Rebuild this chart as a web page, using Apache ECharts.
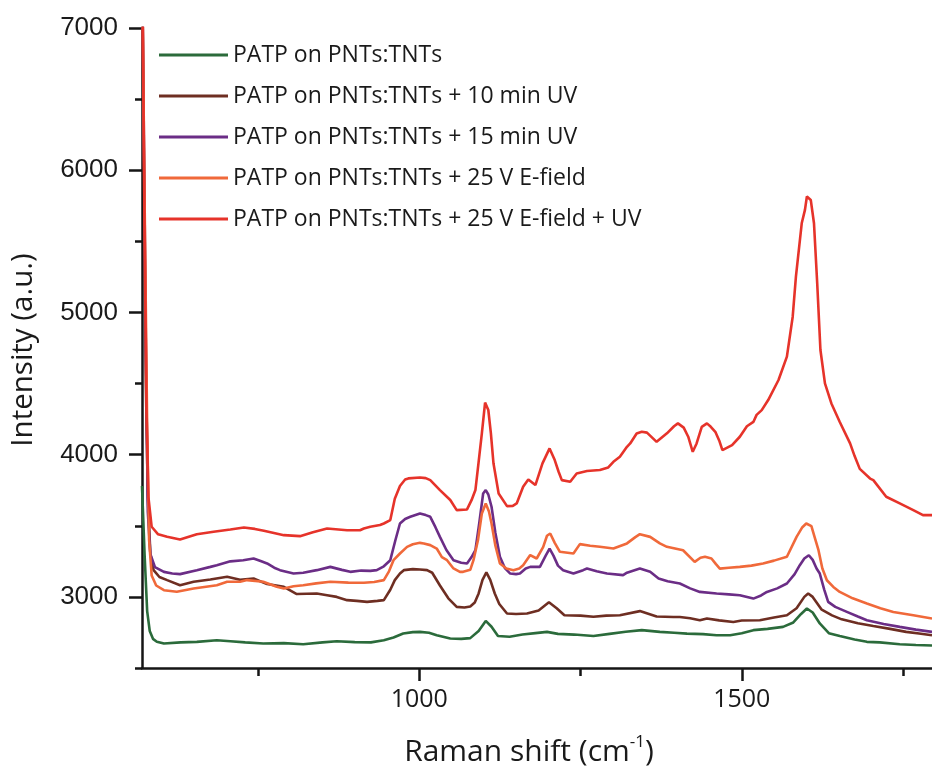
<!DOCTYPE html>
<html>
<head>
<meta charset="utf-8">
<script src="https://cdn.jsdelivr.net/npm/echarts@6/dist/echarts.min.js"></script>
<style>
  html, body { margin: 0; padding: 0; background: #ffffff; }
  #chart { width: 932px; height: 770px; }
</style>
</head>
<body>
<div id="chart"></div>
<script>
// Raman spectra of PATP on PNTs:TNTs — [Raman shift (cm-1), intensity (a.u.)]
const seriesNames = [
  'PATP on PNTs:TNTs',
  'PATP on PNTs:TNTs + 10 min UV',
  'PATP on PNTs:TNTs + 15 min UV',
  'PATP on PNTs:TNTs + 25 V E-field',
  'PATP on PNTs:TNTs + 25 V E-field + UV'
];

const spectrumBare = [
  [570,3780],[574,3300],[578,2900],[582,2760],[587,2705],[593,2685],[604,2672],[630,2680],
  [655,2684],[686,2695],[707,2688],[730,2680],[758,2672],[790,2675],[820,2667],[850,2680],
  [872,2688],[900,2682],[925,2680],[945,2695],[960,2715],[975,2742],[990,2752],[1001,2754],
  [1015,2748],[1027,2730],[1048,2707],[1065,2705],[1079,2710],[1092,2760],[1103,2831],[1112,2790],
  [1122,2725],[1140,2720],[1160,2735],[1180,2745],[1198,2754],[1215,2740],[1240,2735],[1270,2725],
  [1295,2740],[1320,2755],[1345,2766],[1373,2754],[1395,2748],[1415,2742],[1440,2738],[1461,2730],
  [1482,2730],[1500,2745],[1518,2766],[1540,2775],[1564,2789],[1580,2820],[1592,2880],[1601,2918],
  [1610,2890],[1621,2813],[1635,2745],[1652,2725],[1675,2700],[1694,2684],[1714,2680],[1745,2667],
  [1770,2662],[1795,2658]
];

const spectrumUv10 = [
  [570,7600],[573,6000],[576,4500],[579,3700],[583,3300],[588,3188],[597,3140],[609,3118],
  [629,3082],[650,3106],[676,3122],[702,3141],[722,3120],[743,3129],[764,3090],[790,3071],
  [810,3020],[841,3024],[857,3012],[872,3000],[888,2977],[903,2972],[919,2965],[935,2972],
  [945,2977],[955,3050],[962,3118],[970,3164],[976,3188],[990,3195],[1001,3193],[1012,3188],
  [1020,3170],[1032,3080],[1045,2990],[1058,2930],[1070,2925],[1079,2932],[1086,2960],[1092,3024],
  [1098,3120],[1104,3172],[1110,3120],[1117,3024],[1124,2950],[1136,2883],[1150,2880],[1167,2883],
  [1185,2905],[1201,2962],[1213,2920],[1225,2871],[1250,2868],[1270,2860],[1290,2868],[1311,2871],
  [1342,2900],[1368,2862],[1394,2859],[1404,2859],[1420,2850],[1435,2836],[1446,2848],[1465,2835],
  [1487,2824],[1500,2834],[1528,2836],[1550,2855],[1570,2871],[1585,2920],[1597,3000],[1603,3024],
  [1610,3000],[1624,2910],[1640,2870],[1655,2842],[1680,2815],[1704,2795],[1730,2775],[1755,2754],
  [1775,2742],[1795,2730]
];

const spectrumUv15 = [
  [570,7600],[573,6200],[576,4800],[579,3600],[583,3300],[590,3210],[604,3176],[617,3165],
  [629,3160],[655,3188],[676,3211],[686,3223],[707,3250],[727,3258],[743,3270],[755,3250],
  [764,3235],[775,3205],[784,3188],[805,3164],[820,3170],[841,3188],[862,3211],[880,3190],
  [893,3176],[910,3185],[924,3183],[934,3188],[945,3215],[955,3258],[963,3400],[970,3516],
  [978,3548],[986,3563],[1001,3587],[1010,3575],[1017,3563],[1025,3490],[1032,3422],[1042,3330],
  [1053,3258],[1065,3240],[1074,3235],[1081,3280],[1087,3329],[1093,3520],[1099,3727],[1103,3751],
  [1107,3720],[1112,3634],[1118,3450],[1125,3282],[1133,3200],[1141,3164],[1150,3160],[1156,3164],
  [1165,3200],[1172,3211],[1187,3211],[1196,3290],[1202,3340],[1208,3290],[1215,3220],[1223,3188],
  [1239,3164],[1254,3188],[1260,3200],[1275,3180],[1291,3164],[1316,3153],[1322,3170],[1342,3200],
  [1358,3176],[1371,3129],[1385,3110],[1404,3094],[1420,3060],[1435,3035],[1461,3024],[1480,3018],
  [1497,3012],[1518,2988],[1530,3010],[1539,3035],[1555,3060],[1570,3094],[1582,3160],[1590,3223],
  [1597,3270],[1604,3293],[1610,3260],[1616,3200],[1621,3164],[1628,3050],[1634,2965],[1645,2930],
  [1663,2895],[1680,2862],[1694,2836],[1720,2810],[1745,2789],[1770,2770],[1795,2754]
];

const spectrumField = [
  [570,7600],[574,5800],[578,4200],[581,3400],[585,3150],[592,3080],[604,3047],[624,3036],
  [650,3059],[686,3082],[702,3106],[722,3106],[733,3118],[758,3106],[779,3071],[790,3059],
  [805,3075],[820,3082],[840,3095],[862,3106],[890,3100],[914,3099],[930,3105],[945,3118],
  [953,3180],[960,3258],[970,3305],[981,3352],[990,3370],[1001,3380],[1007,3376],[1017,3364],
  [1027,3340],[1035,3280],[1043,3258],[1053,3200],[1063,3176],[1068,3176],[1079,3190],[1084,3258],
  [1091,3400],[1097,3587],[1103,3657],[1108,3600],[1112,3516],[1118,3360],[1125,3235],[1135,3200],
  [1146,3188],[1155,3200],[1161,3223],[1172,3294],[1182,3270],[1192,3350],[1198,3430],[1203,3446],
  [1210,3380],[1218,3317],[1239,3305],[1249,3371],[1265,3360],[1280,3352],[1301,3340],[1322,3376],
  [1335,3420],[1342,3441],[1358,3422],[1373,3376],[1384,3352],[1409,3328],[1427,3246],[1436,3275],
  [1443,3282],[1453,3270],[1460,3230],[1466,3199],[1480,3205],[1497,3211],[1515,3220],[1533,3235],
  [1550,3255],[1570,3282],[1585,3422],[1594,3490],[1600,3516],[1608,3497],[1613,3420],[1619,3328],
  [1625,3200],[1632,3117],[1642,3070],[1652,3035],[1672,2990],[1694,2953],[1715,2920],[1735,2894],
  [1766,2871],[1795,2848]
];

const spectrumFieldUv = [
  [570,7600],[574,5600],[577,4300],[580,3700],[585,3493],[595,3440],[609,3423],[629,3404],
  [655,3441],[681,3458],[707,3474],[728,3488],[745,3478],[759,3465],[790,3434],[815,3427],
  [835,3455],[857,3481],[888,3469],[908,3469],[914,3481],[924,3493],[939,3505],[945,3516],
  [955,3540],[962,3690],[970,3780],[978,3825],[983,3833],[1001,3840],[1010,3835],[1017,3821],
  [1032,3751],[1048,3681],[1058,3610],[1074,3615],[1081,3680],[1087,3751],[1092,3950],[1097,4150],
  [1102,4366],[1107,4314],[1111,4150],[1115,3939],[1123,3727],[1136,3638],[1145,3640],[1151,3657],
  [1161,3774],[1169,3826],[1180,3786],[1191,3939],[1202,4044],[1210,3962],[1216,3880],[1221,3821],
  [1234,3810],[1244,3868],[1260,3885],[1280,3892],[1293,3910],[1301,3950],[1311,3985],[1322,4055],
  [1327,4079],[1337,4149],[1345,4161],[1353,4155],[1368,4090],[1384,4150],[1395,4200],[1401,4220],
  [1410,4190],[1417,4126],[1424,4020],[1430,4079],[1438,4196],[1446,4220],[1452,4196],[1459,4161],
  [1465,4100],[1470,4032],[1485,4067],[1497,4126],[1508,4200],[1518,4230],[1523,4280],[1531,4313],
  [1541,4384],[1557,4525],[1570,4689],[1579,4970],[1584,5252],[1593,5627],[1598,5721],[1601,5815],
  [1604,5808],[1607,5791],[1612,5627],[1617,5205],[1622,4736],[1629,4501],[1639,4360],[1652,4230],
  [1668,4079],[1675,3990],[1683,3900],[1699,3832],[1704,3821],[1724,3704],[1745,3657],[1766,3610],
  [1781,3575],[1795,3575]
];

const seriesColors = ['#2b6b3b', '#6e2e22', '#6b2d86', '#f0693a', '#e6332a'];

// axis ticks
const xMajorTicks = [1000, 1500];
const xMinorTicks = [750, 1250, 1750];
const yMajorTicks = [3000, 4000, 5000, 6000, 7000];
const yMinorTicks = [2500, 3500, 4500, 5500, 6500];

const X_MIN = 570, X_MAX = 1795, Y_MIN = 2500, Y_MAX = 7000;
const AXIS_COLOR = '#151515';
const TEXT_COLOR = '#1a1a1a';
const plainNumber = v => String(v);

const spectra = [spectrumBare, spectrumUv10, spectrumUv15, spectrumField, spectrumFieldUv];

const chart = echarts.init(document.getElementById('chart'), null, { renderer: 'canvas' });

chart.setOption({
  animation: false,
  backgroundColor: '#ffffff',
  grid: { left: 142, top: 28, width: 790, height: 640, containLabel: false },
  legend: {
    orient: 'vertical',
    left: 159,
    top: 43,
    padding: 0,
    icon: 'rect',
    itemWidth: 69,
    itemHeight: 3,
    itemGap: 17,
    selectedMode: false,
    textStyle: { fontFamily: 'Open Sans', fontSize: 23, color: TEXT_COLOR, lineHeight: 24 },
    data: seriesNames
  },
  xAxis: [
    {
      type: 'value', min: X_MIN, max: X_MAX, position: 'bottom',
      axisLine: { show: true, onZero: false, lineStyle: { color: AXIS_COLOR, width: 2.5 } },
      axisTick: { show: true, customValues: xMajorTicks, length: 13, lineStyle: { color: AXIS_COLOR, width: 2.5 } },
      axisLabel: { customValues: xMajorTicks, formatter: plainNumber, fontFamily: 'Open Sans', fontSize: 25, color: TEXT_COLOR, margin: 19 },
      splitLine: { show: false }
    },
    {
      type: 'value', min: X_MIN, max: X_MAX, position: 'bottom',
      axisLine: { show: false },
      axisTick: { show: true, customValues: xMinorTicks, length: 8, lineStyle: { color: AXIS_COLOR, width: 2.5 } },
      axisLabel: { show: false },
      splitLine: { show: false }
    }
  ],
  yAxis: [
    {
      type: 'value', min: Y_MIN, max: Y_MAX, position: 'left',
      axisLine: { show: true, onZero: false, lineStyle: { color: AXIS_COLOR, width: 2.5 } },
      axisTick: { show: true, customValues: yMajorTicks, length: 13, lineStyle: { color: AXIS_COLOR, width: 2.5 } },
      axisLabel: { customValues: yMajorTicks, formatter: plainNumber, fontFamily: 'Liberation Sans', fontSize: 26, color: TEXT_COLOR, margin: 24 },
      splitLine: { show: false }
    },
    {
      type: 'value', min: Y_MIN, max: Y_MAX, position: 'left',
      axisLine: { show: false },
      axisTick: { show: true, customValues: yMinorTicks, length: 7, lineStyle: { color: AXIS_COLOR, width: 2.5 } },
      axisLabel: { show: false },
      splitLine: { show: false }
    }
  ],
  graphic: [
    {
      type: 'text', x: 24, y: 350, rotation: Math.PI / 2,
      style: {
        text: 'Intensity (a.u.)', fontFamily: 'Open Sans', fontSize: 29.5,
        fill: TEXT_COLOR, align: 'center', verticalAlign: 'middle'
      }
    },
    {
      type: 'text', x: 529, y: 752,
      style: {
        text: '{a|Raman shift (cm}{s|-1}{a|)}',
        align: 'center', verticalAlign: 'middle',
        rich: {
          a: { fontFamily: 'Open Sans', fontSize: 30, fill: TEXT_COLOR, lineHeight: 36 },
          s: { fontFamily: 'Open Sans', fontSize: 17, fill: TEXT_COLOR, verticalAlign: 'top', lineHeight: 36 }
        }
      }
    }
  ],
  series: spectra.map((data, i) => ({
    name: seriesNames[i],
    type: 'line',
    xAxisIndex: 0,
    yAxisIndex: 0,
    data: data,
    showSymbol: false,
    symbol: 'none',
    clip: true,
    smooth: false,
    color: seriesColors[i],
    lineStyle: { color: seriesColors[i], width: 2.6 },
    emphasis: { disabled: true }
  }))
});
</script>
</body>
</html>
